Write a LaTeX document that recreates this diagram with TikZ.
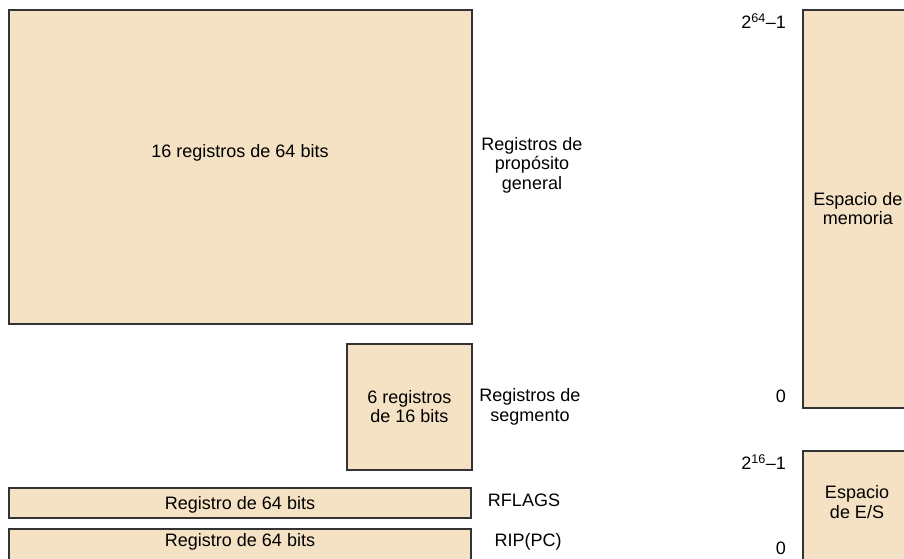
\documentclass[tikz,border=0pt]{standalone}
\usepackage{fontspec}
\setmainfont{Liberation Sans}
\definecolor{boxfill}{HTML}{F5E1C3}
\definecolor{boxline}{HTML}{333333}
\tikzset{
  regbox/.style={draw=boxline, fill=boxfill, line width=1.6pt, anchor=north west, inner sep=0pt, align=center},
  side/.style={align=center, inner sep=0pt},
  addr/.style={anchor=east, inner sep=0pt},
}

\begin{document}
\begin{tikzpicture}[x=1pt, y=-1pt, font=\fontsize{18}{19.5}\selectfont]
  \useasboundingbox (0,0) rectangle (904,558);
  \clip (0,0) rectangle (904,558);

  % registros del procesador
  \node[regbox, minimum width=463pt, minimum height=314pt] (gpr) at (8,9) {};
  \node[side] (gprtxt) at (240,153) {16 registros de 64 bits};
  \node[side] (gprlbl) at (532,165) {Registros de\\propósito\\general};

  \node[regbox, minimum width=125pt, minimum height=126pt] (seg) at (346,343) {6 registros\\de 16 bits};
  \node[side] (seglbl) at (530,407) {Registros de\\segmento};

  \node[regbox, minimum width=462pt, minimum height=30pt] (flags) at (8,487) {};
  \node[side] (flagstxt) at (240,505) {Registro de 64 bits};
  \node[side] (flagslbl) at (524,500) {RFLAGS};

  \node[regbox, minimum width=462pt, minimum height=40pt] (rip) at (8,528) {};
  \node[side] (riptxt) at (240,542) {Registro de 64 bits};
  \node[side] (riplbl) at (528,542) {RIP(PC)};

  % espacios de direcciones
  \node[regbox, minimum width=110pt, minimum height=398pt] (mem) at (802,9) {Espacio de\\memoria};
  \node[addr] (memtop) at (786,21) {2\textsuperscript{64}–1};
  \node[addr] (membot) at (786,396) {0};

  \node[regbox, minimum width=110pt, minimum height=120pt] (io) at (802,450) {};
  \node[side] (iotxt) at (857,502) {Espacio\\de E/S};
  \node[addr] (iotop) at (786,462) {2\textsuperscript{16}–1};
  \node[addr] (iobot) at (786,548) {0};

\end{tikzpicture}
\end{document}
